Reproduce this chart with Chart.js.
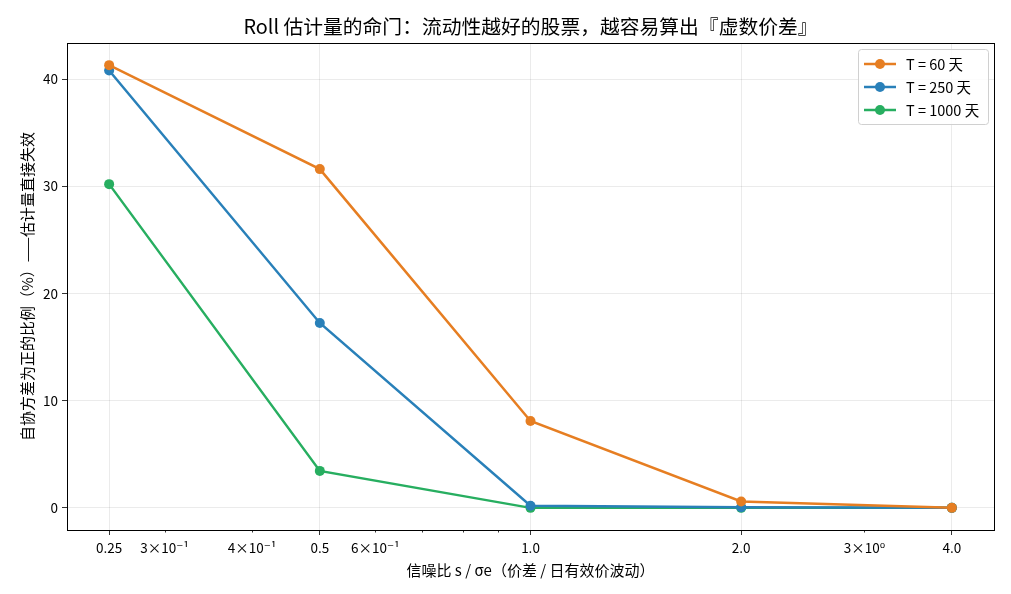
<!DOCTYPE html>
<html>
<head>
<meta charset="utf-8">
<script src="https://cdn.jsdelivr.net/npm/chart.js@4.4.0/dist/chart.umd.min.js"></script>
<style>
html,body{margin:0;padding:0;background:#fff;}
#wrap{width:1011px;height:594px;position:relative;}
</style>
</head>
<body>
<div id="wrap"><canvas id="c" width="1011" height="594"></canvas></div>
<script>
const FONT = '"Noto Sans CJK SC", "DejaVu Sans", sans-serif';
const ratios = [0.25, 0.5, 1.0, 2.0, 4.0];
const seriesNames = ['T = 60 天', 'T = 250 天', 'T = 1000 天'];
const t60 = [41.3, 31.6, 8.1, 0.6, 0.0];
const t250 = [40.8, 17.25, 0.2, 0.05, 0.0];
const t1000 = [30.2, 3.45, 0.0, 0.0, 0.0];
const colors = ['#e67e22', '#2980b9', '#27ae60'];
const majorTicks = [0.25, 0.5, 1.0, 2.0, 4.0];
const majorLabels = ['0.25', '0.5', '1.0', '2.0', '4.0'];
const minorTicks = [0.3, 0.4, 0.6, 0.7, 0.8, 0.9, 3.0];
const minorLabels = {0.3: '3×10⁻¹', 0.4: '4×10⁻¹', 0.6: '6×10⁻¹', 3.0: '3×10⁰'};
const yTicks = [0, 10, 20, 30, 40];
const titleText = 'Roll 估计量的命门：流动性越好的股票，越容易算出『虚数价差』';
const xTitle = '信噪比 s / σe（价差 / 日有效价波动）';
const yTitle = '自协方差为正的比例（%）——估计量直接失效';

const allSeries = [t60, t250, t1000];
const datasets = allSeries.map((s, i) => ({
  label: seriesNames[i],
  data: ratios.map((x, j) => ({x: x, y: s[j]})),
  borderColor: colors[i],
  backgroundColor: colors[i],
  borderWidth: 2.5,
  pointRadius: 5,
  pointHoverRadius: 5,
  pointBorderWidth: 0,
  tension: 0,
  fill: false
}));

const isMajor = v => majorTicks.some(m => Math.abs(m - v) < 1e-9);

const framePlugin = {
  id: 'frame',
  afterDraw(chart) {
    const ctx = chart.ctx;
    const a = chart.chartArea;
    ctx.save();
    const xs = chart.scales.x;
    ctx.strokeStyle = '#000';
    ctx.lineWidth = 0.8;
    minorTicks.forEach(v => {
      const px = Math.round(xs.getPixelForValue(v)) + 0.5;
      ctx.beginPath();
      ctx.moveTo(px, a.bottom);
      ctx.lineTo(px, a.bottom + 2.5);
      ctx.stroke();
    });
    ctx.lineWidth = 1;
    ctx.strokeStyle = '#000';
    ctx.strokeRect(Math.round(a.left) + 0.5, Math.round(a.top) + 0.5, Math.round(a.right - a.left), Math.round(a.bottom - a.top));
    ctx.fillStyle = '#000';
    ctx.font = '19.8px ' + FONT;
    ctx.textAlign = 'center';
    ctx.textBaseline = 'middle';
    ctx.fillText(titleText, (a.left + a.right) / 2, 26);
    const lx = 858, ly = 49, lw = 130, lh = 75;
    ctx.fillStyle = 'rgba(255,255,255,0.85)';
    ctx.strokeStyle = '#d0d0d0';
    ctx.lineWidth = 1;
    ctx.beginPath();
    if (ctx.roundRect) ctx.roundRect(lx + 0.5, ly + 0.5, lw, lh, 3); else ctx.rect(lx + 0.5, ly + 0.5, lw, lh);
    ctx.fill();
    ctx.stroke();
    ctx.font = '14.5px ' + FONT;
    ctx.textAlign = 'left';
    ctx.textBaseline = 'middle';
    chart.data.datasets.forEach((ds, i) => {
      const yy = ly + 15 + i * 23;
      ctx.strokeStyle = ds.borderColor;
      ctx.lineWidth = 2.5;
      ctx.beginPath();
      ctx.moveTo(lx + 6, yy);
      ctx.lineTo(lx + 38, yy);
      ctx.stroke();
      ctx.fillStyle = ds.borderColor;
      ctx.beginPath();
      ctx.arc(lx + 22, yy, 5, 0, Math.PI * 2);
      ctx.fill();
      ctx.fillStyle = '#000';
      ctx.fillText(ds.label, lx + 48, yy);
    });
    ctx.restore();
  }
};

new Chart(document.getElementById('c'), {
  type: 'line',
  data: {datasets: datasets},
  options: {
    responsive: false,
    animation: false,
    devicePixelRatio: 1,
    layout: {padding: {left: 0, right: 17, top: 43, bottom: 0}},
    plugins: {legend: {display: false}, title: {display: false}, tooltip: {enabled: false}},
    scales: {
      x: {
        type: 'logarithmic',
        min: 0.25 / Math.pow(2, 0.2),
        max: 4.0 * Math.pow(2, 0.2),
        afterBuildTicks(scale) {
          scale.ticks = majorTicks.concat(minorTicks).sort((a, b) => a - b).map(v => ({value: v}));
        },
        afterFit(scale) { scale.height = 64; },
        ticks: {
          autoSkip: false,
          maxRotation: 0,
          padding: 5,
          color: '#000',
          font: {family: FONT, size: 13.5},
          callback(v) {
            const i = majorTicks.findIndex(m => Math.abs(m - v) < 1e-9);
            if (i >= 0) return majorLabels[i];
            for (const k in minorLabels) { if (Math.abs(parseFloat(k) - v) < 1e-9) return minorLabels[k]; }
            return '';
          }
        },
        grid: {
          color: ctx => (ctx.tick && isMajor(ctx.tick.value)) ? 'rgba(0,0,0,0.1)' : 'rgba(0,0,0,0)',
          lineWidth: 0.8,
          drawTicks: true,
          tickLength: 5,
          tickColor: ctx => (ctx.tick && isMajor(ctx.tick.value)) ? '#000' : 'rgba(0,0,0,0)'
        },
        border: {display: true, color: '#000', width: 1},
        title: {display: true, text: xTitle, color: '#000', font: {family: FONT, size: 15}, padding: {top: 0, bottom: 15}}
      },
      y: {
        type: 'linear',
        min: -2.065,
        max: 43.365,
        afterBuildTicks(scale) { scale.ticks = yTicks.map(v => ({value: v})); },
        afterFit(scale) { scale.width = 67; },
        ticks: {
          padding: 4,
          color: '#000',
          font: {family: FONT, size: 13.5},
          callback: v => String(v)
        },
        grid: {color: 'rgba(0,0,0,0.1)', lineWidth: 0.8, tickLength: 5, tickColor: '#000'},
        border: {display: true, color: '#000', width: 1},
        title: {display: true, text: yTitle, color: '#000', font: {family: FONT, size: 15}, padding: {top: 18, bottom: 0}}
      }
    }
  },
  plugins: [framePlugin]
});
</script>
</body>
</html>
